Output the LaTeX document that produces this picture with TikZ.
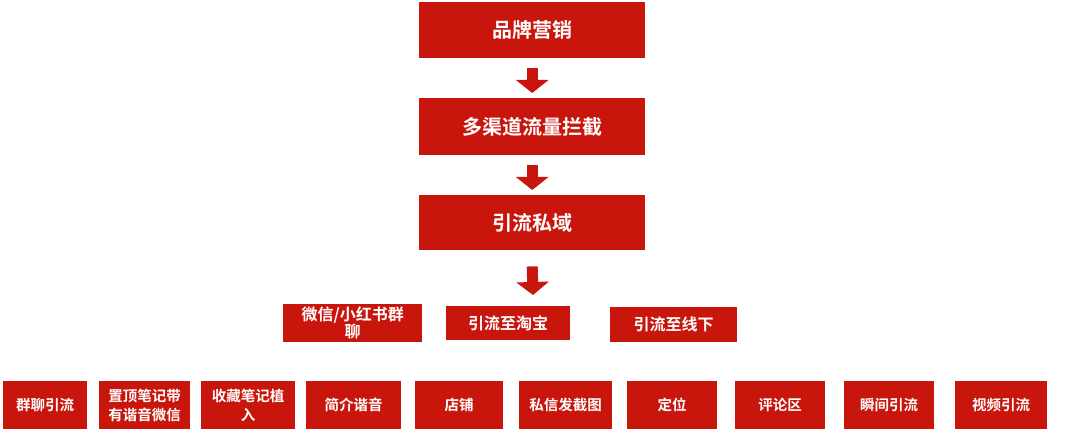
\documentclass[tikz,border=0pt]{standalone}
\usepackage{fontspec}
\setmainfont{Noto Sans CJK SC Bold}
\usetikzlibrary{arrows.meta}
\definecolor{bred}{RGB}{200,22,12}
\begin{document}
\begin{tikzpicture}[x=1pt,y=-1pt,
  box/.style={fill=bred,text=white,inner sep=2pt,align=center,anchor=north west},
  big/.style={box,font=\fontsize{20}{24}\selectfont},
  mid/.style={box,font=\fontsize{16}{17}\selectfont},
  small/.style={box,font=\fontsize{14.5}{19}\selectfont},
  flow/.style={draw=bred,line width=11pt,-{Triangle[width=32pt,length=13pt]}}]
\useasboundingbox (0,0) rectangle (1080,438);
\node[big,minimum width=226pt,minimum height=56pt] (a) at (419,2) {品牌营销};
\node[big,minimum width=226pt,minimum height=57pt] (b) at (419,98) {多渠道流量拦截};
\node[big,minimum width=226pt,minimum height=55pt] (c) at (419,195) {引流私域};
\coordinate (d) at (533,295);
\draw[flow] ([yshift=-10pt]a.south) -- ([yshift=5pt]b.north);
\draw[flow] ([yshift=-10pt]b.south) -- ([yshift=5pt]c.north);
\draw[flow] ([yshift=-16pt]c.south) -- (d);
\node[mid,minimum width=139pt,minimum height=38pt,text width=130pt,inner sep=0pt] (m1) at (283,304) {微信/小红书群\\[0pt]聊};
\node[mid,minimum width=124pt,minimum height=34pt] (m2) at (446,306) {引流至淘宝};
\node[mid,minimum width=127pt,minimum height=35pt] (m3) at (610,307) {引流至线下};
\node[small,minimum width=84pt,minimum height=48pt] (b1) at (3,381) {群聊引流};
\node[small,minimum width=91pt,minimum height=48pt,text width=84pt] (b2) at (99,381) {置顶笔记带\\有谐音微信};
\node[small,minimum width=94pt,minimum height=48pt,text width=88pt] (b3) at (201,381) {收藏笔记植\\入};
\node[small,minimum width=95pt,minimum height=48pt] (b4) at (306,381) {简介谐音};
\node[small,minimum width=88pt,minimum height=48pt] (b5) at (415,381) {店铺};
\node[small,minimum width=93pt,minimum height=48pt] (b6) at (519,381) {私信发截图};
\node[small,minimum width=90pt,minimum height=48pt] (b7) at (627,381) {定位};
\node[small,minimum width=90pt,minimum height=48pt] (b8) at (735,381) {评论区};
\node[small,minimum width=90pt,minimum height=48pt] (b9) at (844,381) {瞬间引流};
\node[small,minimum width=92pt,minimum height=48pt] (b10) at (955,381) {视频引流};
\end{tikzpicture}
\end{document}
